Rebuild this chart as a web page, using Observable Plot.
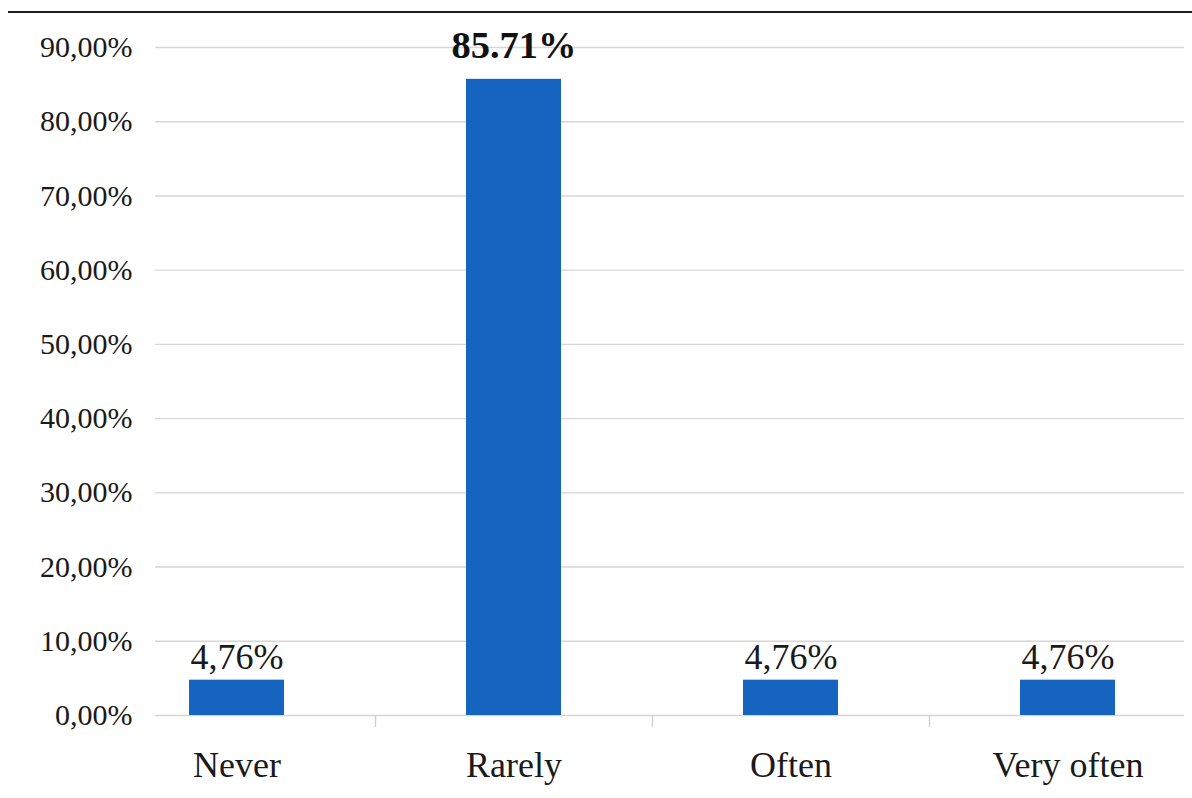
<!DOCTYPE html>
<html>
<head>
<meta charset="utf-8">
<script src="https://cdn.jsdelivr.net/npm/d3@7"></script>
<script src="https://cdn.jsdelivr.net/npm/@observablehq/plot@0.6"></script>
<style>
  html, body { margin: 0; padding: 0; background: #ffffff; }
  #wrap { position: relative; width: 1192px; height: 798px; overflow: hidden; }
  #topline { position: absolute; left: 8px; right: 0; top: 11px; border-top: 2px solid #1e1e1e; }
  #chart { position: absolute; left: 0; top: 0; }
</style>
</head>
<body>
<div id="wrap">
  <div id="chart"></div>
  <div id="topline"></div>
</div>
<script>
const categories = ["Never", "Rarely", "Often", "Very often"];
const values = [4.76, 85.71, 4.76, 4.76];
const valueLabels = ["4,76%", "85.71%", "4,76%", "4,76%"];
const yTicks = [0, 10, 20, 30, 40, 50, 60, 70, 80, 90];
const yTickLabels = ["0,00%", "10,00%", "20,00%", "30,00%", "40,00%", "50,00%", "60,00%", "70,00%", "80,00%", "90,00%"];

const data = categories.map((c, i) => ({category: c, value: values[i], label: valueLabels[i], big: i === 1}));

const xRange = [98, 1207];
const padIn = 0.657, padOut = 0.33;
const step = (xRange[1] - xRange[0]) / (categories.length - padIn + 2 * padOut);

const chart = Plot.plot({
  width: 1192,
  height: 798,
  marginTop: 47,
  marginBottom: 83,
  marginLeft: 155,
  marginRight: 8,
  style: {fontFamily: "'Liberation Serif', 'Times New Roman', serif", background: "transparent", color: "#1a1a1a"},
  x: {type: "band", domain: categories, range: xRange, paddingInner: padIn, paddingOuter: padOut, label: null},
  y: {domain: [0, 90], label: null},
  marks: [
    Plot.ruleY(yTicks, {stroke: "#d6d6d6", strokeWidth: 1.4}),
    Plot.ruleX(categories.slice(1), {x: d => d, dx: -step / 2, y1: 0, y2: -1.6, stroke: "#d0d0d0", strokeWidth: 1.4}),
    Plot.barY(data, {x: "category", y: "value", fill: "#1565c0"}),
    Plot.text(data.filter(d => !d.big), {x: "category", y: "value", text: "label", lineAnchor: "bottom", dy: -11, fontSize: 36, fill: "#1a1a1a"}),
    Plot.text(data.filter(d => d.big), {x: "category", y: "value", text: "label", lineAnchor: "bottom", dy: -21, fontSize: 38.5, fontWeight: "bold", fill: "#111"}),
    Plot.axisY({ticks: yTicks, tickFormat: d => yTickLabels[yTicks.indexOf(d)], tickSize: 0, tickPadding: 23, fontSize: 30, label: null}),
    Plot.axisX({tickSize: 0, tickPadding: 36, fontSize: 36, label: null})
  ]
});
document.getElementById("chart").appendChild(chart);
</script>
</body>
</html>
